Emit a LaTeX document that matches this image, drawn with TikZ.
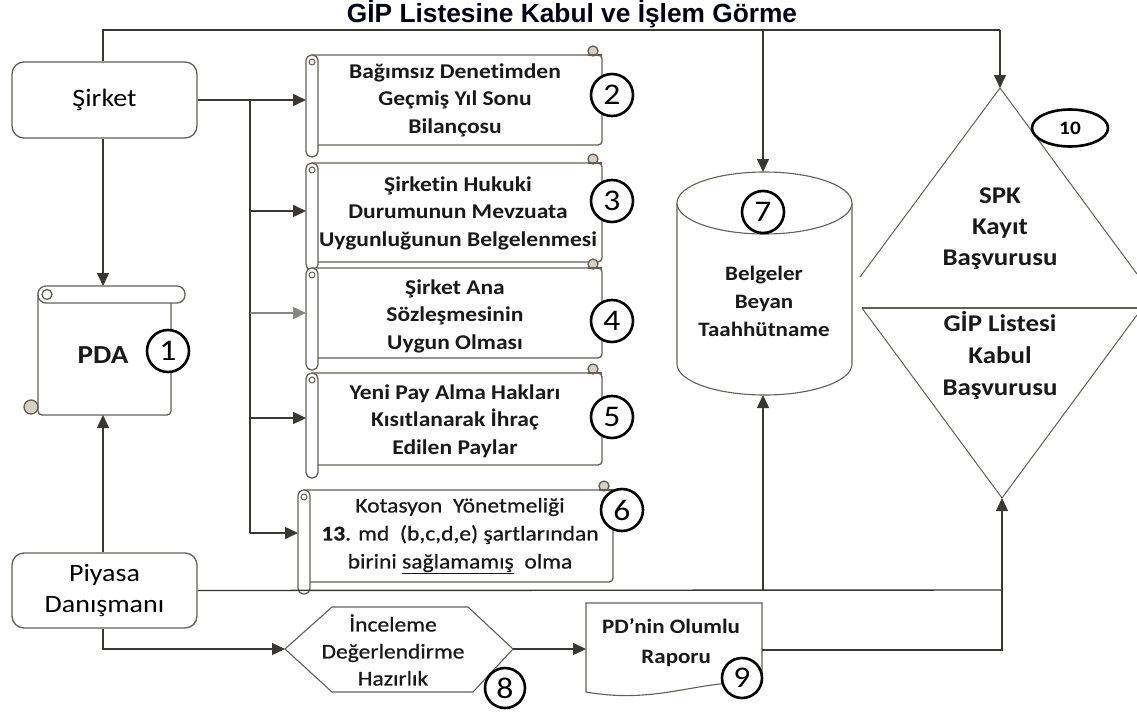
\documentclass[tikz,border=0pt]{standalone}
\usepackage{fontspec}
\setmainfont{Carlito}[FakeStretch=1.12, Ligatures=NoCommon]
\newfontfamily\medfont{Carlito}[FakeStretch=1.12, FakeBold=0.6, Ligatures=NoCommon]
\newfontfamily\titlefont{Liberation Sans}
\usetikzlibrary{arrows.meta,shapes.geometric}
\definecolor{ln}{RGB}{58,55,50}
\definecolor{sh}{RGB}{100,94,86}
\definecolor{curlc}{RGB}{215,208,195}
\tikzset{
  conn/.style={draw=ln, line width=1.4pt},
  arr/.style={conn, -{Triangle[length=13pt,width=12pt]}},
  outl/.style={draw=sh, line width=1.3pt},
  num/.style={circle, draw=black, line width=2.6pt, fill=white, minimum size=42pt, inner sep=0pt, font=\fontsize{30}{30}\selectfont},
  stxt/.style={align=center, font=\bfseries\fontsize{21}{27.5}\selectfont, inner sep=0pt, text=black!90},
  rtxt/.style={align=center, font=\medfont\fontsize{21}{28}\selectfont, inner sep=0pt, text=black!90},
  ghost/.style={inner sep=0pt, outer sep=0pt},
  rbox/.style={draw=sh, line width=1.3pt, rounded corners=12pt, fill=white, align=center, font=\fontsize{25}{31}\selectfont, inner sep=0pt},
}
% horizontal scroll: L T R B BB
\newcommand\hscroll[5]{%
  \draw[outl, fill=white, rounded corners=4pt] (#1+6,#2) -- (#3,#2) -- (#3,#4) -- (#1+6,#4);
  \draw[outl, fill=curlc] (#3-9,#2-4) circle[radius=5pt];
  \draw[outl] (#3-14,#2) -- (#3,#2);
  \draw[outl, fill=white, rounded corners=5.5pt] (#1,#2) rectangle (#1+12,#5);
  \draw[sh, line width=1pt] (#1+6,#2+7) circle[radius=3pt];
}
\begin{document}
\begin{tikzpicture}[x=1pt,y=-1pt]
\useasboundingbox[fill=white] (0,0) rectangle (1137,717);

% title
\node[font=\titlefont\bfseries\fontsize{26.3}{26}\selectfont, text=black!92!blue] (title) at (572,14) {GİP Listesine Kabul ve İşlem Görme};

% Şirket and Piyasa boxes
\node[rbox, minimum width=185pt, minimum height=76pt] (sirket) at (104.5,100) {Şirket};
\node[rbox, minimum width=185pt, minimum height=75pt] (piy) at (104.5,590.5) {Piyasa\\Danışmanı};

% PDA vertical scroll
\draw[outl, fill=white, rounded corners=4pt] (38,295) -- (38,415) -- (171,415) -- (171,300);
\draw[outl, fill=white, rounded corners=8pt] (38,286) rectangle (185,303);
\draw[outl, fill=white] (47,294.5) circle[radius=5pt];
\draw[outl, fill=curlc] (31,407) circle[radius=7pt];
\node[ghost, minimum width=147pt, minimum height=129pt] (pda) at (111.5,350.5) {};
\node[font=\bfseries\fontsize{26}{26}\selectfont, text=black!90] (pdat) at (103,355) {PDA};
\node[num] (n1) at (168,351) {1};

% horizontal scrolls 2-6
\hscroll{306}{55}{602}{145}{157}
\hscroll{306}{163}{602}{262}{270}
\hscroll{306}{268}{602}{358}{370}
\hscroll{306}{373}{602}{465}{478}
\hscroll{298}{490}{613}{582}{594}
\node[ghost, minimum width=296pt, minimum height=102pt] (s2) at (454,106) {};
\node[ghost, minimum width=296pt, minimum height=107pt] (s3) at (454,216.5) {};
\node[ghost, minimum width=296pt, minimum height=102pt] (s4) at (454,319) {};
\node[ghost, minimum width=296pt, minimum height=105pt] (s5) at (454,425.5) {};
\node[ghost, minimum width=315pt, minimum height=104pt] (s6) at (455.5,542) {};
\node[stxt] (t2) at (455,100) {Bağımsız Denetimden\\Geçmiş Yıl Sonu\\Bilançosu};
\node[stxt] (t3) at (458,213) {Şirketin Hukuki\\Durumunun Mevzuata\\Uygunluğunun Belgelenmesi};
\node[stxt] (t4) at (455,316) {Şirket Ana\\Sözleşmesinin\\Uygun Olması};
\node[stxt] (t5) at (455,421) {Yeni Pay Alma Hakları\\Kısıtlanarak İhraç\\Edilen Paylar};
\node[rtxt] (t6) at (460,536) {Kotasyon\ \ Yönetmeliği\\\textbf{13}. md\ \ (b,c,d,e) şartlarından\\birini \underline{sağlamamış}\ \ olma};
\node[num] (n2) at (612,95) {2};
\node[num] (n3) at (612,201) {3};
\node[num] (n4) at (612,321) {4};
\node[num] (n5) at (612,417) {5};
\node[num] (n6) at (622,510) {6};

% cylinder 7
\draw[outl, line width=1.1pt, fill=white] (677,203) -- (677,364) arc[start angle=180, end angle=360, x radius=87.5pt, y radius=31pt] -- (852,203);
\draw[outl, line width=1.1pt, fill=white] (764.5,203) ellipse[x radius=87.5pt, y radius=31pt];
\node[ghost, minimum width=175pt, minimum height=223pt] (cyl) at (764.5,283.5) {};
\node[num] (n7) at (763,212) {7};
\node[stxt, font=\bfseries\fontsize{20.5}{28}\selectfont] (t7) at (764,301) {Belgeler\\Beyan\\Taahhütname};

% diamond 10
\draw[draw=sh, line width=1pt] (860,277) -- (1000,88) -- (1137,274);
\draw[draw=sh, line width=1pt] (862,308) -- (1002,498) -- (1137,315);
\draw[draw=sh, line width=1.3pt] (862,308) -- (1137,308);
\coordinate (dtop) at (1000,88);
\coordinate (dbot) at (1002,498);
\node[stxt, font=\bfseries\fontsize{24}{31}\selectfont] (tspk) at (1000,229) {SPK\\Kayıt\\Başvurusu};
\node[stxt, font=\bfseries\fontsize{24}{32}\selectfont] (tgip) at (1000,355) {GİP Listesi\\Kabul\\Başvurusu};
\node[ellipse, draw=black, line width=2.6pt, fill=white, minimum width=76pt, minimum height=37pt, inner sep=0pt, font=\bfseries\fontsize{19}{19}\selectfont] (n10) at (1070,128) {10};

% hexagon 8
\draw[outl, line width=1.1pt, fill=white] (285,649) -- (332,607) -- (468,607) -- (513,649) -- (473,692) -- (332,692) -- cycle;
\node[ghost, minimum width=228pt, minimum height=85pt] (hex) at (399,649) {};
\node[rtxt, font=\medfont\fontsize{21}{27}\selectfont] (t8) at (393,650) {İnceleme\\Değerlendirme\\Hazırlık};
\node[num, minimum size=40pt] (n8) at (505,688) {8};

% document 9
\draw[outl, line width=1.1pt, fill=white] (586,603) -- (762,603) -- (762,683) .. controls (700,678) and (660,705) .. (586,692) -- cycle;
\node[ghost, minimum width=176pt, minimum height=89pt] (doc) at (674,647.5) {};
\node[stxt, font=\bfseries\fontsize{20.5}{30}\selectfont] (t9) at (671,643) {PD’nin Olumlu\\\ \ Raporu};
\node[num, minimum size=40pt] (n9) at (742,678) {9};

% connectors
\coordinate (topL) at (103,30);
\coordinate (topR) at (1000,30);
\coordinate (t7c) at (763,30);
\draw[conn] (sirket.north -| topL) -- (topL) -- (topR);
\draw[arr] (topR) -- (dtop);
\draw[arr] (t7c) -- (763,172);

\draw[arr] (sirket.east) -- (sirket.east -| s2.west);
\coordinate (b0) at (250,100);
\coordinate (b3) at (250,211);
\coordinate (b4) at (250,313);
\coordinate (b5) at (250,418);
\coordinate (b6) at (250,533);
\draw[conn] (b0) -- (b6);
\draw[arr] (b3) -- (b3 -| s3.west);
\draw[arr, draw=ln!60] (b4) -- (b4 -| s4.west);
\draw[arr] (b5) -- (b5 -| s5.west);
\draw[arr] (b6) -- (b6 -| s6.west);

\draw[arr] (sirket.south -| topL) -- (topL |- pda.north);
\draw[arr] (piy.north -| topL) -- (topL |- pda.south);

\coordinate (j1) at (763,590);
\coordinate (j2) at (1002,590);
\draw[conn] (piy.east) -- (j2);
\draw[arr] (j2) -- (dbot);
\draw[arr] (j1) -- (j1 |- cyl.south);

\coordinate (k1) at (103,649);
\draw[arr] (piy.south -| k1) -- (k1) -- (hex.west);
\draw[arr] (hex.east) -- (hex.east -| doc.west);
\coordinate (k2) at (1002,650);
\draw[conn] (k2 -| doc.east) -- (k2) -- (j2);
\end{tikzpicture}
\end{document}
